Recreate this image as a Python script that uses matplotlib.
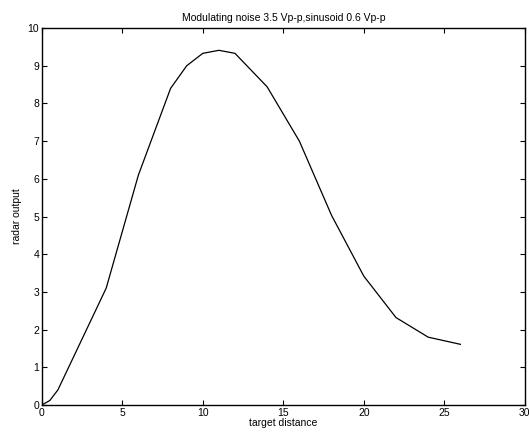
import matplotlib
matplotlib.use("Agg")
import matplotlib.pyplot as plt

# target distance vs radar output
distance = [0, 0.5, 1, 4, 6, 8, 9, 10, 11, 12, 14, 16, 18, 20, 22, 24, 26]
output = [0, 0.12, 0.4, 3.1, 6.1, 8.4, 9.0, 9.33, 9.41, 9.33, 8.44, 7.0, 5.03, 3.42, 2.32, 1.8, 1.61]

plt.rcParams['font.family'] = ['Liberation Sans', 'DejaVu Sans']

fig = plt.figure(figsize=(5.29, 4.32), dpi=100)
ax = fig.add_axes([0.079, 0.0625, 0.913, 0.8725])
ax.plot(distance, output, color='black', linewidth=0.9)

ax.set_xlim(0, 30)
ax.set_ylim(0, 10)
ax.set_xticks(range(0, 31, 5))
ax.set_yticks(range(0, 11))
ax.tick_params(direction='in', length=3.5, width=0.8, labelsize=7.5,
               top=True, right=True, pad=2)
for s in ax.spines.values():
    s.set_linewidth(1.0)

ax.set_title('Modulating noise 3.5 Vp-p,sinusoid 0.6 Vp-p', fontsize=7.5, pad=5)
ax.set_xlabel('target distance', fontsize=7.5, labelpad=0)
ax.set_ylabel('radar output', fontsize=7.5, labelpad=4)

fig.savefig('out.png', dpi=100)
